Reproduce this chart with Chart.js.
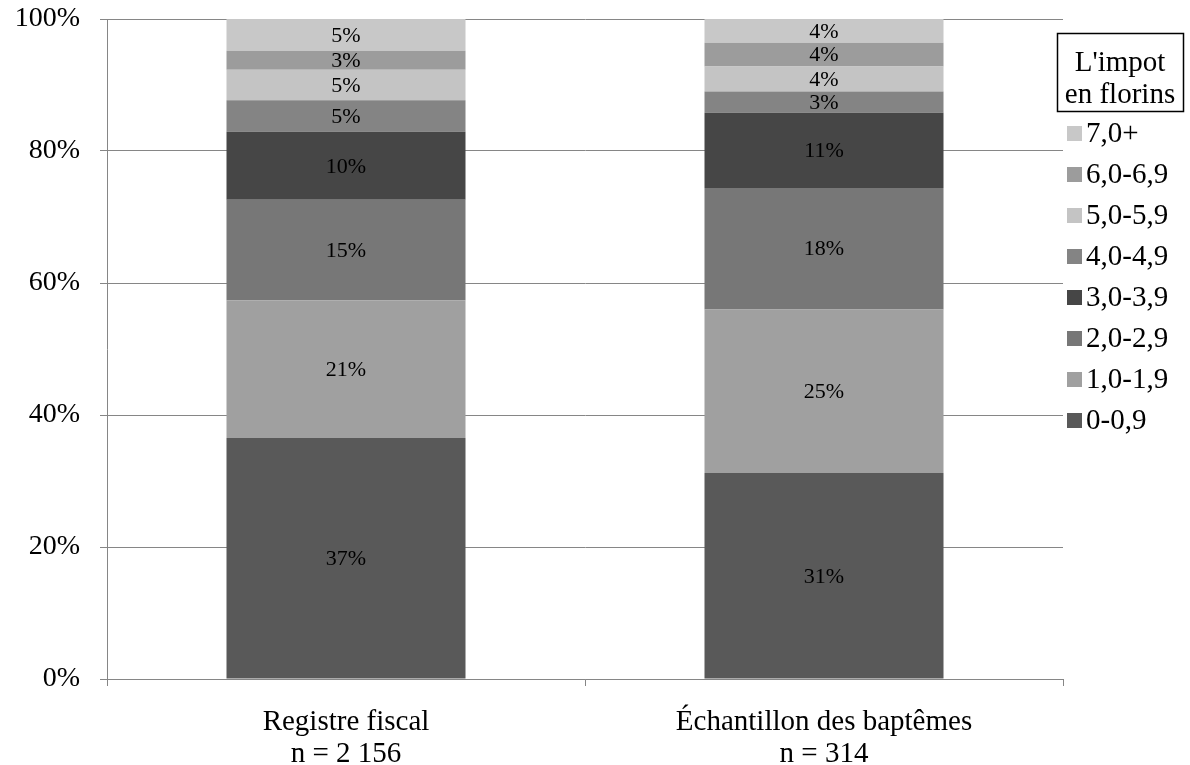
<!DOCTYPE html>
<html>
<head>
<meta charset="utf-8">
<script src="https://cdn.jsdelivr.net/npm/chart.js@4/dist/chart.umd.min.js"></script>
<style>
  html, body { margin: 0; padding: 0; background: #fff; }
  #wrap { width: 1190px; height: 765px; position: relative; }
</style>
</head>
<body>
<div id="wrap"><canvas id="impotChart"></canvas></div>
<script>
// Répartition de l'impôt (en florins) : registre fiscal vs échantillon des baptêmes

const categories = [
    ['Registre fiscal', 'n = 2 156'],
    ['Échantillon des baptêmes', 'n = 314']
];
const brackets = ['0-0,9', '1,0-1,9', '2,0-2,9', '3,0-3,9', '4,0-4,9', '5,0-5,9', '6,0-6,9', '7,0+'];
const registreFiscal = [36.5, 20.9, 15.2, 10.3, 4.8, 4.6, 2.9, 4.8];
const echantillonBaptemes = [31.2, 24.8, 18.4, 11.4, 3.2, 3.8, 3.6, 3.6];
const bracketColors = ['#595959', '#a0a0a0', '#777777', '#464646', '#848484', '#c4c4c4', '#9c9c9c', '#c8c8c8'];
const legendTitle = ["L'impot", 'en florins'];
const yTicks = [0, 20, 40, 60, 80, 100];

const SERIF = '"Liberation Serif", "Times New Roman", serif';
const GRID = '#868686';

const datasets = brackets.map((b, i) => ({
    label: b,
    data: [registreFiscal[i], echantillonBaptemes[i]],
    backgroundColor: bracketColors[i],
    borderWidth: 0,
    barPercentage: 0.5,
    categoryPercentage: 1.0
}));

// percentages written in the middle of each segment
const segmentLabels = {
    id: 'segmentLabels',
    afterDatasetsDraw(chart) {
        const ctx = chart.ctx;
        ctx.save();
        ctx.font = '22px ' + SERIF;
        ctx.fillStyle = '#000';
        ctx.textAlign = 'center';
        ctx.textBaseline = 'middle';
        chart.data.datasets.forEach((ds, di) => {
            const meta = chart.getDatasetMeta(di);
            meta.data.forEach((bar, i) => {
                const p = bar.getProps(['x', 'y', 'base'], true);
                ctx.fillText(Math.round(ds.data[i]) + '%', p.x, (p.y + p.base) / 2 + 1);
            });
        });
        ctx.restore();
    }
};

// boxed title + reversed list of swatches on the right
const sideLegend = {
    id: 'sideLegend',
    afterDraw(chart) {
        const ctx = chart.ctx;
        ctx.save();
        ctx.strokeStyle = '#000';
        ctx.lineWidth = 1.5;
        ctx.strokeRect(1057.5, 33.5, 126, 78);
        ctx.font = '29px ' + SERIF;
        ctx.fillStyle = '#000';
        ctx.textAlign = 'center';
        ctx.textBaseline = 'middle';
        ctx.fillText(legendTitle[0], 1120, 63);
        ctx.fillText(legendTitle[1], 1120, 95);

        ctx.textAlign = 'left';
        const ds = chart.data.datasets;
        for (let k = 0; k < ds.length; k++) {
            const d = ds[ds.length - 1 - k];
            const cy = 133 + k * 41;
            ctx.fillStyle = d.backgroundColor;
            ctx.fillRect(1067, cy - 7, 15, 15);
            ctx.fillStyle = '#000';
            ctx.fillText(d.label, 1086, cy + 1);
        }
        ctx.restore();
    }
};

new Chart(document.getElementById('impotChart'), {
    type: 'bar',
    data: { labels: categories, datasets: datasets },
    options: {
        responsive: true,
        maintainAspectRatio: false,
        animation: false,
        layout: { padding: { left: 0, right: 127, top: 19, bottom: 0 } },
        plugins: {
            legend: { display: false },
            tooltip: { enabled: false }
        },
        scales: {
            x: {
                stacked: true,
                afterFit: (s) => { s.height = 86; s.paddingLeft = 0; s.paddingRight = 0; },
                grid: { drawOnChartArea: false, drawTicks: true, tickLength: 7, color: GRID, offset: true },
                border: { color: GRID, width: 1 },
                ticks: {
                    color: '#000',
                    padding: 21,
                    font: { family: SERIF, size: 29, lineHeight: 1.08 }
                }
            },
            y: {
                stacked: true,
                min: 0,
                max: 100,
                afterFit: (s) => { s.width = 107; s.paddingTop = 0; s.paddingBottom = 0; },
                afterBuildTicks: (s) => { s.ticks = yTicks.map(v => ({ value: v })); },
                grid: { color: GRID, tickLength: 7, lineWidth: 1 },
                border: { color: GRID, width: 1 },
                ticks: {
                    color: '#000',
                    padding: 20,
                    font: { family: SERIF, size: 28 },
                    callback: (v) => v + '%'
                }
            }
        }
    },
    plugins: [segmentLabels, sideLegend]
});
</script>
</body>
</html>
